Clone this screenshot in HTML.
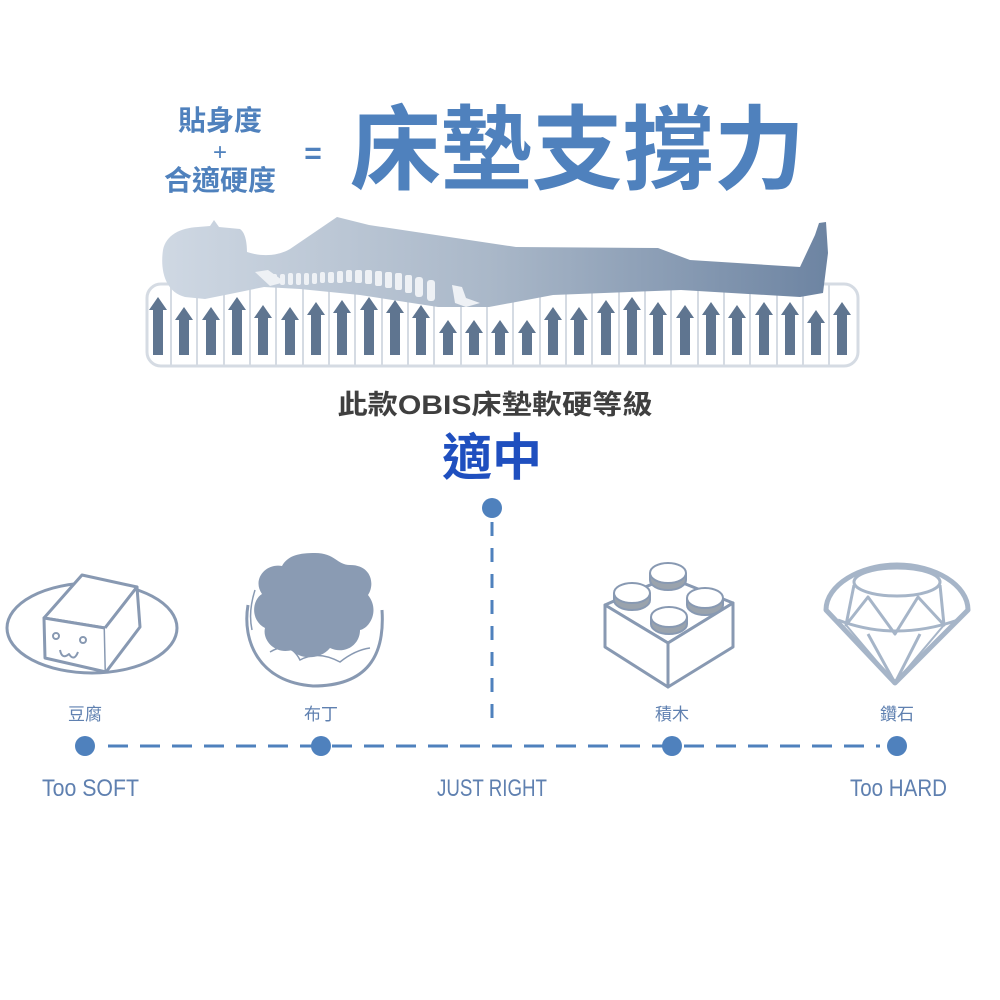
<!DOCTYPE html>
<html><head><meta charset="utf-8"><style>
html,body{margin:0;padding:0;background:#fff;}
svg{display:block;}
text{font-family:"Liberation Sans","Noto Sans CJK TC",sans-serif;}
</style></head><body>
<svg width="1000" height="1000" viewBox="0 0 1000 1000" xmlns="http://www.w3.org/2000/svg">
<defs>
<linearGradient id="bg" x1="0" x2="1" y1="0" y2="0">
<stop offset="0" stop-color="#cfd8e3"/><stop offset="0.5" stop-color="#a9b7c8"/><stop offset="1" stop-color="#6d84a2"/>
</linearGradient>
</defs>
<g fill="#4f81bd" font-weight="bold">
<text x="220" y="130" font-size="28" text-anchor="middle">貼身度</text>
<text x="220" y="160" font-size="24" text-anchor="middle" font-weight="normal">+</text>
<text x="220" y="190" font-size="28" text-anchor="middle">合適硬度</text>
<text x="313" y="163" font-size="30" text-anchor="middle">=</text>
<text x="350" y="182" font-size="92" textLength="455" lengthAdjust="spacingAndGlyphs">床墊支撐力</text>
</g>
<rect x="147" y="284" width="711" height="82" rx="14" fill="#fff" stroke="#d5dbe3" stroke-width="3"/>
<g stroke="#d5dbe3" stroke-width="2">
<line x1="171" y1="285" x2="171" y2="365"/><line x1="197" y1="285" x2="197" y2="365"/><line x1="224" y1="285" x2="224" y2="365"/><line x1="250" y1="285" x2="250" y2="365"/><line x1="276" y1="285" x2="276" y2="365"/><line x1="303" y1="285" x2="303" y2="365"/><line x1="329" y1="285" x2="329" y2="365"/><line x1="355" y1="285" x2="355" y2="365"/><line x1="382" y1="285" x2="382" y2="365"/><line x1="408" y1="285" x2="408" y2="365"/><line x1="434" y1="285" x2="434" y2="365"/><line x1="461" y1="285" x2="461" y2="365"/><line x1="487" y1="285" x2="487" y2="365"/><line x1="513" y1="285" x2="513" y2="365"/><line x1="540" y1="285" x2="540" y2="365"/><line x1="566" y1="285" x2="566" y2="365"/><line x1="592" y1="285" x2="592" y2="365"/><line x1="619" y1="285" x2="619" y2="365"/><line x1="645" y1="285" x2="645" y2="365"/><line x1="671" y1="285" x2="671" y2="365"/><line x1="698" y1="285" x2="698" y2="365"/><line x1="724" y1="285" x2="724" y2="365"/><line x1="750" y1="285" x2="750" y2="365"/><line x1="777" y1="285" x2="777" y2="365"/><line x1="803" y1="285" x2="803" y2="365"/><line x1="829" y1="285" x2="829" y2="365"/>
</g>
<path d="M185,297 C165,292 160,270 163,250 C166,235 180,228 198,227 L210,226 L214,220 L219,227 L240,229 C246,233 247,245 247,252 C262,257 278,256 290,249 L337,217 L369,225 L516,247 L658,248 L690,260 L800,267 L815,235 L819,223 L826,222 L828,253 L823,293 L800,297 L681,290 L553,295 L489,307 L438,307 L360,295 L300,289 L264,287 L230,294 L205,299 Z" fill="url(#bg)"/>
<g fill="#eef1f5">
<path d="M255,272 L268,270 L285,282 L270,286 Z"/>
<rect x="272" y="274" width="5" height="10" rx="2"/><rect x="280" y="274" width="5" height="11" rx="2"/><rect x="288" y="273" width="5" height="12" rx="2"/><rect x="296" y="273" width="5" height="12" rx="2"/><rect x="304" y="273" width="5" height="12" rx="2"/><rect x="312" y="273" width="5" height="11" rx="2"/><rect x="320" y="272" width="5" height="11" rx="2"/><rect x="328" y="272" width="6" height="11" rx="2"/><rect x="337" y="271" width="6" height="12" rx="2"/><rect x="346" y="270" width="6" height="12" rx="2"/><rect x="355" y="270" width="7" height="13" rx="2"/><rect x="365" y="270" width="7" height="14" rx="2"/><rect x="375" y="271" width="7" height="15" rx="2"/><rect x="385" y="272" width="7" height="16" rx="2"/><rect x="395" y="273" width="7" height="17" rx="2"/><rect x="405" y="275" width="7" height="18" rx="2"/><rect x="415" y="277" width="8" height="20" rx="3"/><rect x="427" y="280" width="8" height="21" rx="3"/>
<path d="M452,285 L462,287 L466,298 L480,303 L466,307 L455,303 Z"/>
</g>
<g fill="#5f7590">
<path d="M153,355V310H149L158,297L167,310H163V355Z"/>
<path d="M179,355V320H175L184,307L193,320H189V355Z"/>
<path d="M206,355V320H202L211,307L220,320H216V355Z"/>
<path d="M232,355V310H228L237,297L246,310H242V355Z"/>
<path d="M258,355V318H254L263,305L272,318H268V355Z"/>
<path d="M285,355V320H281L290,307L299,320H295V355Z"/>
<path d="M311,355V315H307L316,302L325,315H321V355Z"/>
<path d="M337,355V313H333L342,300L351,313H347V355Z"/>
<path d="M364,355V310H360L369,297L378,310H374V355Z"/>
<path d="M390,355V313H386L395,300L404,313H400V355Z"/>
<path d="M416,355V318H412L421,305L430,318H426V355Z"/>
<path d="M443,355V333H439L448,320L457,333H453V355Z"/>
<path d="M469,355V333H465L474,320L483,333H479V355Z"/>
<path d="M495,355V333H491L500,320L509,333H505V355Z"/>
<path d="M522,355V333H518L527,320L536,333H532V355Z"/>
<path d="M548,355V320H544L553,307L562,320H558V355Z"/>
<path d="M574,355V320H570L579,307L588,320H584V355Z"/>
<path d="M601,355V313H597L606,300L615,313H611V355Z"/>
<path d="M627,355V310H623L632,297L641,310H637V355Z"/>
<path d="M653,355V315H649L658,302L667,315H663V355Z"/>
<path d="M680,355V318H676L685,305L694,318H690V355Z"/>
<path d="M706,355V315H702L711,302L720,315H716V355Z"/>
<path d="M732,355V318H728L737,305L746,318H742V355Z"/>
<path d="M759,355V315H755L764,302L773,315H769V355Z"/>
<path d="M785,355V315H781L790,302L799,315H795V355Z"/>
<path d="M811,355V323H807L816,310L825,323H821V355Z"/>
<path d="M837,355V315H833L842,302L851,315H847V355Z"/>
</g>
<text x="495" y="414" font-size="27" font-weight="bold" fill="#3f3f3f" text-anchor="middle" textLength="315" lengthAdjust="spacingAndGlyphs">此款OBIS床墊軟硬等級</text>
<text x="492" y="475" font-size="50" font-weight="bold" fill="#1f4fbf" text-anchor="middle">適中</text>
<circle cx="492" cy="508" r="10" fill="#4f81bd"/>
<line x1="492" y1="522" x2="492" y2="725" stroke="#4f81bd" stroke-width="3" stroke-dasharray="14,12"/>
<g fill="none" stroke="#8899b2" stroke-width="3" stroke-linejoin="round">
<ellipse cx="92" cy="628" rx="85" ry="45"/>
<path d="M44,618 L82,575 L137,587 L105,628 Z" fill="#fff"/>
<path d="M44,618 L105,628 L106,672 L45,658 Z" fill="#fff"/>
<path d="M105,628 L137,587 L140,627 L106,672" fill="#fff"/>
<circle cx="56" cy="636" r="3" stroke-width="2"/><circle cx="83" cy="640" r="3" stroke-width="2"/>
<path d="M60,650 Q62,660 69,654 Q74,662 78,652" stroke-width="2"/>
</g>
<path d="M248,605 C242,640 258,682 313,686 C368,686 385,655 382,610" fill="#fff" stroke="#8899b2" stroke-width="3"/>
<path d="M270,652 Q290,640 300,660 Q318,650 340,662 Q355,650 370,648" fill="none" stroke="#8899b2" stroke-width="1.5"/>
<path d="M255,590 Q248,612 252,630" fill="none" stroke="#8899b2" stroke-width="1.5"/>
<path d="M315,553 C335,553 337,565 350,565 C372,565 375,585 368,595 C380,610 370,628 360,630 C360,645 345,655 330,648 C320,660 300,660 292,650 C275,655 262,640 265,628 C250,620 252,600 262,594 C252,580 265,563 282,566 C288,555 300,553 315,553 Z" fill="#8a9bb3"/>
<g stroke="#8899b2" stroke-width="3" fill="#fff" stroke-linejoin="round">
<path d="M605,605 L668,577 L733,603 L668,643 Z"/>
<path d="M605,605 L668,643 L668,687 L605,647 Z"/>
<path d="M668,643 L733,603 L733,647 L668,687 Z"/>
</g>
<g stroke="#8899b2" stroke-width="2">
<g><path d="M650,573 V580 A18,10 0 0 0 686,580 V573" fill="#9aa3ad"/><ellipse cx="668" cy="573" rx="18" ry="10" fill="#fff"/></g>
<g><path d="M614,593 V600 A18,10 0 0 0 650,600 V593" fill="#9aa3ad"/><ellipse cx="632" cy="593" rx="18" ry="10" fill="#fff"/></g>
<g><path d="M687,598 V605 A18,10 0 0 0 723,605 V598" fill="#9aa3ad"/><ellipse cx="705" cy="598" rx="18" ry="10" fill="#fff"/></g>
<g><path d="M651,617 V624 A18,10 0 0 0 687,624 V617" fill="#9aa3ad"/><ellipse cx="669" cy="617" rx="18" ry="10" fill="#fff"/></g>
</g>
<g fill="none" stroke="#a6b5c8" stroke-linejoin="round">
<path d="M826,610 C826,585 860,565 897,565 C935,565 968,585 968,610 L895,683 Z" stroke-width="5"/>
<ellipse cx="897" cy="582" rx="43" ry="14" stroke-width="3"/>
<path d="M838,620 Q895,642 958,620" stroke-width="3"/>
<path d="M854,585 L846,625 L868,597 L895,634 L918,597 L944,625 L940,585" stroke-width="3"/>
<path d="M868,634 L895,683 L920,634" stroke-width="3"/>
<path d="M846,625 L895,683 L944,625" stroke-width="2"/>
</g>
<g fill="#5f80b0" font-size="17" text-anchor="middle">
<text x="85" y="720">豆腐</text>
<text x="321" y="720">布丁</text>
<text x="672" y="720">積木</text>
<text x="897" y="720">鑽石</text>
</g>
<line x1="108" y1="746" x2="880" y2="746" stroke="#4f81bd" stroke-width="3" stroke-dasharray="20,12"/>
<g fill="#4f81bd">
<circle cx="85" cy="746" r="10"/><circle cx="321" cy="746" r="10"/><circle cx="672" cy="746" r="10"/><circle cx="897" cy="746" r="10"/>
</g>
<g fill="#5f80b0" font-size="24">
<text x="42" y="796" textLength="97" lengthAdjust="spacingAndGlyphs">Too SOFT</text>
<text x="437" y="796" textLength="110" lengthAdjust="spacingAndGlyphs">JUST RIGHT</text>
<text x="850" y="796" textLength="97" lengthAdjust="spacingAndGlyphs">Too HARD</text>
</g>
</svg>
</body></html>
